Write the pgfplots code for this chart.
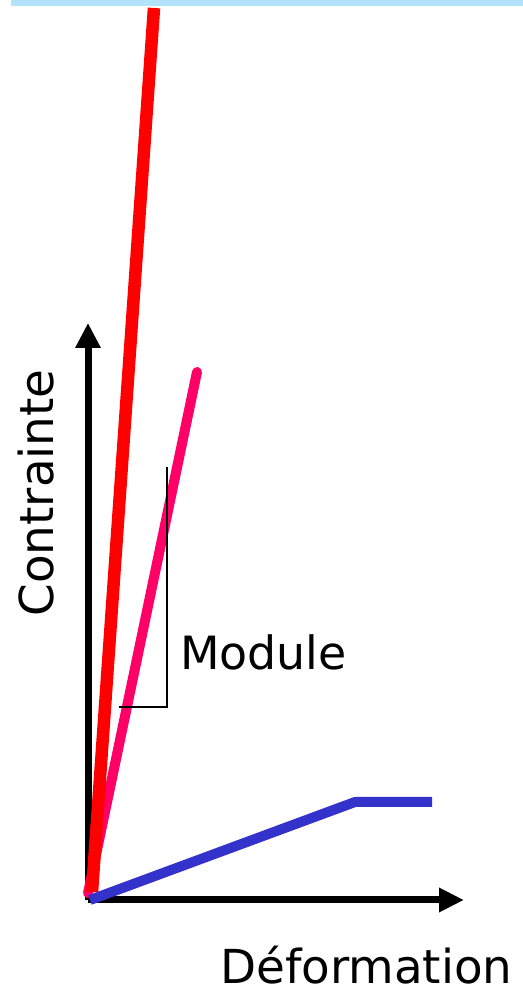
\documentclass[border=0pt]{standalone}
\usepackage{fontspec}
\setmainfont{DejaVu Sans}
\usepackage{pgfplots}
\pgfplotsset{compat=1.18}
\usetikzlibrary{arrows.meta}
\definecolor{bandblue}{HTML}{B3E2FA}
\definecolor{redline}{HTML}{FF0000}
\definecolor{pinkline}{HTML}{FF0066}
\definecolor{blueline}{HTML}{3333CC}
\begin{document}
\begin{tikzpicture}
\begin{axis}[
  scale only axis, width=523bp, height=995bp,
  xmin=0, xmax=523, ymin=0, ymax=995,
  hide axis, clip=false,
]
% light blue band at top
\addplot[fill=bandblue, draw=none] coordinates {(11,989) (523,989) (523,995) (11,995)} -- cycle;
% axes
\addplot[black, line width=7bp, -{Triangle[length=25bp,width=24bp]}] coordinates {(88,95) (88,672)};
\addplot[black, line width=7bp, -{Triangle[length=25bp,width=23bp]}] coordinates {(88,95) (464,95)};
% curves
\addplot[pinkline, line width=10bp, line cap=round] coordinates {(88,102) (197,623)};
\addplot[redline, line width=12.5bp] coordinates {(92,103) (154,987)};
\addplot[blueline, line width=10bp, line join=round] coordinates {(90,95) (355,193) (432,193)};
% module bracket
\addplot[black, line width=2bp] coordinates {(167,528) (167,288) (119,288)};
% labels
\node[anchor=base west, inner sep=0pt, font=\fontsize{46}{55}\selectfont] at (axis cs:180,325) {Module};
\node[anchor=base, rotate=90, inner sep=0pt, font=\fontsize{47}{56}\selectfont] at (axis cs:53,502) {Contrainte};
\node[anchor=base west, inner sep=0pt, font=\fontsize{47}{56}\selectfont] at (axis cs:220,11) {Déformation};
\end{axis}
\pgfresetboundingbox
\path[use as bounding box] (0,0) rectangle (523bp,995bp);
\end{tikzpicture}
\end{document}
